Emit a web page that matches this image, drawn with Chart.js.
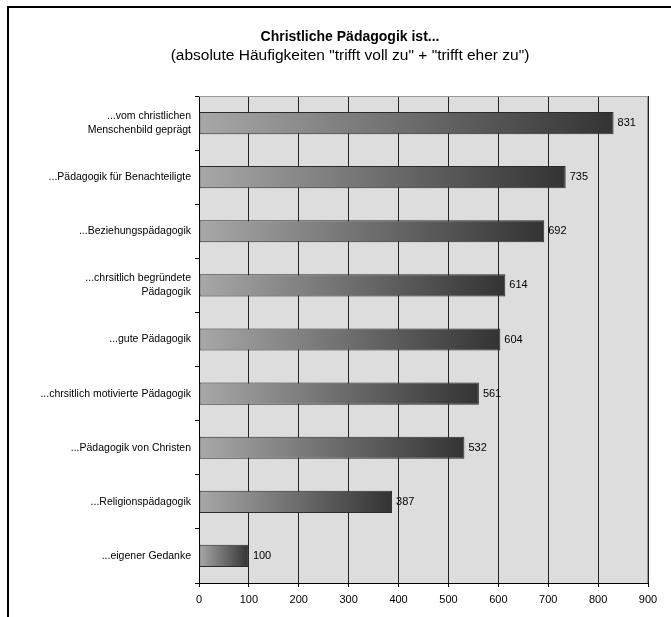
<!DOCTYPE html>
<html>
<head>
<meta charset="utf-8">
<script src="https://cdn.jsdelivr.net/npm/chart.js@4"></script>
<style>
  html, body { margin: 0; padding: 0; background: #fff; }
  #wrap { width: 671px; height: 617px; }
</style>
</head>
<body>
<div id="wrap"><canvas id="chart" width="671" height="617"></canvas></div>
<script>
const titleText = 'Christliche Pädagogik ist...';
const subtitleText = '(absolute Häufigkeiten "trifft voll zu" + "trifft eher zu")';

const categories = [
  ['...vom christlichen', 'Menschenbild geprägt'],
  '...Pädagogik für Benachteiligte',
  '...Beziehungspädagogik',
  ['...chrsitlich begründete', 'Pädagogik'],
  '...gute Pädagogik',
  '...chrsitlich motivierte Pädagogik',
  '...Pädagogik von Christen',
  '...Religionspädagogik',
  '...eigener Gedanke'
];
const values = [831, 735, 692, 614, 604, 561, 532, 387, 100];
const xTicks = [0, 100, 200, 300, 400, 500, 600, 700, 800, 900];

const FONT = 'Arial, "Liberation Sans", sans-serif';

// frame, titles, plot background
const decor = {
  id: 'decor',
  beforeDraw(chart) {
    const c = chart.ctx, a = chart.chartArea;
    c.save();
    c.fillStyle = '#fff';
    c.fillRect(0, 0, chart.width, chart.height);
    c.strokeStyle = '#000';
    c.lineWidth = 2;
    c.beginPath();
    c.moveTo(8, chart.height);
    c.lineTo(8, 7);
    c.lineTo(chart.width, 7);
    c.stroke();
    c.fillStyle = '#dddddd';
    c.fillRect(a.left, a.top, a.right - a.left, a.bottom - a.top);
    c.fillStyle = '#000';
    c.textAlign = 'center';
    c.textBaseline = 'middle';
    c.font = 'bold 14px ' + FONT;
    c.fillText(titleText, 350, 37);
    c.font = '15.5px ' + FONT;
    c.fillText(subtitleText, 350, 56);
    c.restore();
  },
  afterDatasetsDraw(chart) {
    const c = chart.ctx, a = chart.chartArea;
    c.save();
    // plot border top/right
    c.strokeStyle = '#999';
    c.lineWidth = 1;
    c.beginPath();
    c.moveTo(a.left, a.top + 0.5);
    c.lineTo(a.right - 0.5, a.top + 0.5);
    c.lineTo(a.right - 0.5, a.bottom);
    c.stroke();
    // value labels
    c.fillStyle = '#000';
    c.font = '11px ' + FONT;
    c.textAlign = 'left';
    c.textBaseline = 'middle';
    chart.getDatasetMeta(0).data.forEach((bar, i) => {
      c.fillText(String(values[i]), bar.x + 4, bar.y);
    });
    c.restore();
  }
};

function barGradient(ctx) {
  const chart = ctx.chart;
  const x = chart.scales.x;
  if (!chart.chartArea || !x) return '#888';
  const v = values[ctx.dataIndex] || 0;
  const x0 = x.getPixelForValue(0);
  const x1 = x.getPixelForValue(v);
  const g = chart.ctx.createLinearGradient(x0, 0, x1, 0);
  g.addColorStop(0, '#a8a8a8');
  g.addColorStop(1, '#333333');
  return g;
}

new Chart(document.getElementById('chart'), {
  type: 'bar',
  data: {
    labels: categories,
    datasets: [{
      data: values,
      backgroundColor: barGradient,
      borderColor: '#2a2a2a',
      borderWidth: 1,
      borderSkipped: false,
      barPercentage: 0.41,
      categoryPercentage: 1
    }]
  },
  options: {
    indexAxis: 'y',
    responsive: false,
    animation: false,
    layout: { padding: { top: 96, right: 23, bottom: 0, left: 0 } },
    plugins: {
      legend: { display: false },
      tooltip: { enabled: false },
      title: { display: false }
    },
    scales: {
      x: {
        min: 0,
        max: 900,
        afterBuildTicks(scale) {
          scale.ticks = xTicks.map(v => ({ value: v }));
        },
        afterFit(scale) { scale.height = 34; },
        grid: {
          color: '#222',
          lineWidth: 1,
          drawTicks: true,
          tickLength: 4,
          tickColor: '#000'
        },
        border: { display: true, color: '#000', width: 1 },
        ticks: {
          color: '#000',
          font: { family: FONT, size: 11 },
          padding: 6,
          maxRotation: 0
        }
      },
      y: {
        afterFit(scale) { scale.width = 199; },
        grid: {
          drawOnChartArea: false,
          drawTicks: true,
          tickLength: 4,
          tickColor: '#000',
          offset: true
        },
        border: { display: true, color: '#000', width: 1 },
        ticks: {
          color: '#000',
          font: { family: FONT, size: 10.5, lineHeight: 1.35 },
          padding: 4,
          autoSkip: false
        }
      }
    }
  },
  plugins: [decor]
});
</script>
</body>
</html>
